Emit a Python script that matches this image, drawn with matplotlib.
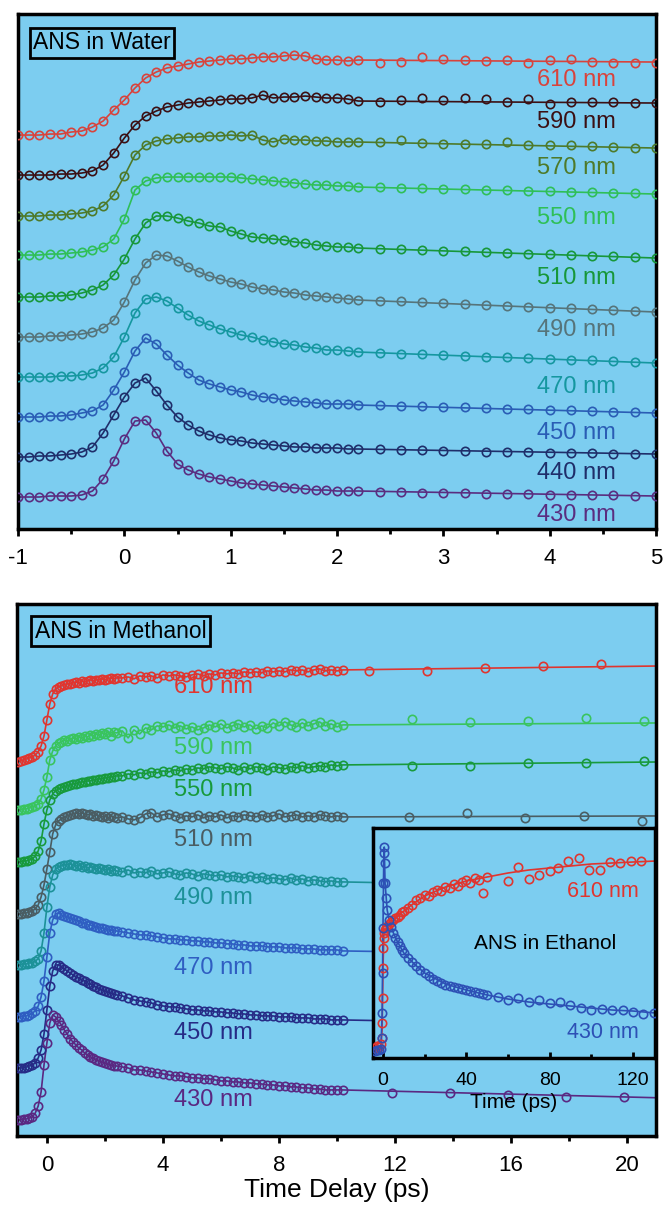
import numpy as np
import matplotlib.pyplot as plt
from matplotlib.ticker import MultipleLocator

plt.rcParams['font.family'] = ['Liberation Sans', 'DejaVu Sans']
plt.rcParams['axes.unicode_minus'] = False

BG = '#7ccdf0'

# ---------------- ANS in water (top panel) ----------------
water_labels = ['610 nm', '590 nm', '570 nm', '550 nm', '510 nm',
                '490 nm', '470 nm', '450 nm', '440 nm', '430 nm']
water_colors = ['#d8433c', '#3b1014', '#4e7a2a', '#2fbf57', '#17973a',
                '#56747a', '#1597a0', '#2a5db5', '#1f2e6a', '#5a2d80']
water_offsets = [394, 354, 313, 274, 232, 192, 152, 112, 72, 32]
water_label_y = [449, 407, 361, 311, 251, 199, 142, 96, 56, 14]

water_t = [-1.0, -0.9, -0.8, -0.7, -0.6, -0.5, -0.4, -0.3, -0.2, -0.1,
           0.0, 0.1, 0.2, 0.3, 0.4, 0.5, 0.6, 0.7, 0.8, 0.9,
           1.0, 1.1, 1.2, 1.3, 1.4, 1.5, 1.6, 1.7, 1.8, 1.9,
           2.0, 2.1, 2.2]
water_t_tail = [2.4, 2.6, 2.8, 3.0, 3.2, 3.4, 3.6, 3.8, 4.0, 4.2, 4.4, 4.6, 4.8, 5.0]

water_610 = [0, 0, 0, 1, 1, 3, 4, 8, 14, 25, 35, 47, 57, 63, 67, 69, 71, 73, 74, 75,
             76, 76, 77, 78, 78, 79, 80, 79, 76, 75, 75, 74, 75]
water_590 = [0, 0, 0, 0, 1, 1, 2, 4, 10, 22, 37, 50, 59, 64, 68, 70, 72, 73, 74, 75,
             76, 76, 77, 80, 77, 78, 78, 79, 78, 77, 77, 76, 74]
water_570 = [0, 0, 0, 1, 1, 2, 3, 5, 10, 21, 40, 61, 71, 75, 77, 78, 79, 79, 80, 80,
             81, 80, 81, 76, 74, 77, 76, 76, 75, 75, 74, 74, 74]
water_550 = [0, 0, 0, 1, 1, 2, 3, 5, 8, 16, 36, 65, 74, 77, 78, 78, 78, 78, 78, 78,
             78, 77, 76, 75, 74, 73, 72, 71, 70, 70, 69, 69, 68]
water_510 = [0, 0, 0, 1, 1, 2, 4, 7, 12, 22, 38, 58, 74, 81, 81, 79, 76, 74, 71, 70,
             66, 63, 60, 59, 58, 57, 55, 54, 52, 51, 50, 50, 49]
water_490 = [0, 0, 0, 1, 1, 2, 3, 5, 9, 17, 35, 57, 74, 82, 81, 76, 70, 65, 61, 58,
             55, 53, 50, 48, 47, 45, 44, 42, 41, 40, 39, 38, 37]
water_470 = [0, 0, 0, 0, 1, 1, 2, 4, 9, 20, 40, 64, 78, 80, 76, 69, 62, 56, 52, 48,
             45, 42, 40, 37, 35, 33, 32, 30, 29, 27, 27, 26, 25]
water_450 = [0, 0, 0, 1, 1, 2, 4, 6, 12, 27, 45, 66, 79, 73, 62, 52, 44, 37, 33, 30,
             27, 25, 22, 20, 19, 17, 16, 15, 14, 13, 13, 13, 12]
water_440 = [0, 0, 1, 1, 2, 3, 5, 10, 24, 42, 60, 74, 79, 66, 52, 40, 32, 26, 22, 19,
             17, 16, 14, 13, 12, 11, 10, 10, 9, 9, 9, 8, 8]
water_430 = [0, 0, 0, 1, 1, 1, 2, 6, 18, 36, 58, 76, 77, 64, 46, 33, 27, 23, 20, 18,
             16, 14, 13, 12, 11, 10, 9, 8, 7, 7, 6, 6, 6]

water_tail_610 = [72, 73, 78, 76, 75, 74, 75, 72, 75, 76, 73, 72, 72, 72]
water_tail_590 = [73, 75, 77, 75, 77, 76, 73, 76, 71, 73, 73, 73, 72, 72]
water_tail_570 = [74, 76, 73, 72, 72, 72, 74, 71, 71, 71, 70, 69, 68, 68]
water_tail_550 = [68, 67, 67, 66, 66, 65, 65, 64, 64, 63, 63, 62, 62, 61]
water_tail_510 = [48, 48, 47, 46, 46, 45, 44, 43, 43, 42, 41, 41, 40, 39]
water_tail_490 = [36, 36, 35, 34, 33, 32, 31, 30, 29, 29, 28, 27, 26, 25]
water_tail_470 = [24, 23, 23, 22, 21, 20, 20, 19, 18, 17, 17, 16, 15, 14]
water_tail_450 = [12, 11, 11, 10, 10, 9, 8, 8, 7, 7, 6, 5, 5, 4]
water_tail_440 = [8, 7, 7, 6, 6, 5, 5, 5, 4, 4, 4, 3, 3, 3]
water_tail_430 = [5, 5, 4, 4, 4, 3, 3, 3, 2, 2, 2, 2, 1, 1]

# value of the fitted curve at t = 5 ps
water_fit_end = [73, 72, 68, 61, 39, 25, 14, 4, 3, 1]

# ---------------- ANS in methanol (bottom panel) ----------------
meoh_labels = ['610 nm', '590 nm', '550 nm', '510 nm',
               '490 nm', '470 nm', '450 nm', '430 nm']
meoh_colors = ['#e0352f', '#39c45e', '#189a3c', '#4a5d63',
               '#1c9198', '#2f5ec2', '#262b86', '#5a2882']
meoh_offsets = [374, 326, 274, 222, 171, 119, 68, 16]
meoh_label_y = [449, 388, 346, 296, 238, 168, 103, 36]

meoh_t = [-1.0, -0.9, -0.8, -0.7, -0.6, -0.5, -0.4, -0.3, -0.2, -0.1,
          0.0, 0.1, 0.2, 0.3, 0.4, 0.5, 0.6, 0.7, 0.8, 0.9,
          1.0, 1.1, 1.2, 1.3, 1.4, 1.5, 1.6, 1.7, 1.8, 1.9,
          2.0, 2.1, 2.2, 2.3, 2.4,
          2.6, 2.8, 3.0, 3.2, 3.4, 3.6, 3.8, 4.0, 4.2, 4.4,
          4.6, 4.8, 5.0, 5.2, 5.4, 5.6, 5.8, 6.0, 6.2, 6.4,
          6.6, 6.8, 7.0, 7.2, 7.4, 7.6, 7.8, 8.0, 8.2, 8.4,
          8.6, 8.8, 9.0, 9.2, 9.4, 9.6, 9.8, 10.0, 10.2]

meoh_610 = [0, 1, 2, 3, 4, 5, 7, 10, 16, 26, 42, 58, 68, 73, 75, 76, 77, 78, 78, 79,
            80, 79, 81, 80, 81, 82, 81, 82, 82, 83, 82, 83, 84, 83, 84,
            84, 85, 83, 86, 85, 86, 84, 87, 86, 87, 86, 85, 87, 88, 86, 88, 87, 89, 88, 89,
            88, 90, 89, 90, 89, 91, 90, 91, 90, 92, 91, 92, 90, 92, 93, 91, 92, 91, 92]
meoh_590 = [0, 0, 1, 1, 2, 3, 4, 6, 11, 20, 33, 50, 59, 64, 67, 68, 70, 69, 71, 72,
            71, 73, 72, 74, 73, 75, 74, 76, 75, 77, 76, 78, 74, 78, 77,
            79, 72, 80, 76, 82, 80, 84, 83, 85, 82, 84, 81, 83, 80, 82, 85, 83, 86, 82, 84,
            86, 83, 85, 81, 84, 82, 87, 84, 88, 85, 83, 87, 84, 86, 88, 84, 86, 83, 85]
meoh_550 = [0, 0, 1, 1, 2, 3, 6, 11, 21, 38, 52, 62, 68, 71, 73, 74, 75, 76, 77, 78,
            78, 79, 80, 80, 81, 81, 82, 82, 83, 83, 84, 84, 85, 85, 86,
            86, 88, 87, 89, 88, 90, 89, 91, 90, 92, 91, 93, 92, 94, 93, 95, 94, 93, 95, 94,
            92, 95, 93, 95, 94, 92, 95, 94, 93, 95, 94, 96, 94, 95, 96, 95, 97, 96, 97]
meoh_510 = [0, 0, 1, 1, 2, 3, 5, 9, 17, 29, 45, 62, 80, 89, 93, 95, 97, 98, 99, 100,
            101, 100, 101, 100, 99, 100, 98, 99, 98, 97, 98, 96, 98, 97, 96,
            97, 95, 94, 96, 100, 101, 97, 99, 100, 98, 96, 98, 97, 99, 96, 98, 97, 99, 96, 98,
            97, 99, 98, 97, 99, 97, 98, 100, 97, 98, 99, 97, 98, 97, 99, 98, 97, 98, 97]
meoh_490 = [0, 0, 1, 1, 2, 2, 4, 6, 14, 32, 58, 78, 90, 96, 98, 99, 100, 100, 101, 100,
            99, 100, 98, 99, 97, 98, 97, 96, 97, 96, 95, 96, 94, 95, 94,
            93, 95, 92, 93, 92, 94, 91, 92, 93, 91, 90, 92, 91, 89, 91, 90, 89, 90, 88, 89,
            88, 87, 89, 87, 88, 86, 87, 86, 85, 87, 85, 86, 84, 85, 84, 83, 84, 83, 83]
meoh_470 = [0, 0, 1, 1, 2, 4, 6, 11, 20, 36, 60, 84, 97, 103, 104, 102, 101, 100, 99, 98,
            97, 96, 94, 94, 92, 92, 91, 90, 89, 89, 88, 87, 87, 86, 86,
            85, 84, 83, 82, 82, 81, 80, 79, 78, 78, 77, 77, 76, 76, 75, 75, 74, 74, 73, 73,
            72, 72, 71, 71, 71, 70, 70, 70, 69, 69, 69, 68, 68, 68, 67, 67, 67, 67, 66]
meoh_450 = [0, 0, 0, 1, 2, 3, 5, 10, 18, 34, 58, 82, 97, 103, 103, 101, 99, 97, 95, 93,
            91, 90, 88, 87, 85, 84, 82, 81, 79, 78, 77, 76, 75, 74, 73,
            72, 70, 68, 67, 66, 65, 63, 62, 61, 61, 60, 59, 58, 58, 57, 57, 56, 56, 55, 55,
            54, 54, 53, 53, 52, 52, 52, 51, 51, 51, 50, 50, 50, 49, 49, 49, 48, 48, 48]
meoh_430 = [0, 0, 1, 1, 2, 3, 7, 14, 28, 55, 77, 97, 105, 103, 99, 95, 90, 86, 81, 78,
            75, 72, 70, 67, 65, 63, 62, 60, 59, 58, 57, 56, 55, 54, 54,
            53, 52, 50, 50, 49, 48, 47, 46, 45, 44, 44, 43, 42, 42, 41, 41, 40, 39, 39, 38,
            38, 37, 37, 36, 36, 35, 35, 34, 34, 33, 33, 32, 32, 31, 31, 30, 30, 30, 30]

# sparse points at long delays
meoh_far_t = [[11.1, 13.1, 15.1, 17.1, 19.1],
              [12.6, 14.6, 16.6, 18.6, 20.6],
              [12.6, 14.6, 16.6, 18.6, 20.6],
              [12.5, 14.5, 16.5, 18.5, 20.5],
              [12.5, 14.5, 16.5, 18.5, 20.5],
              [12.5, 14.5, 16.5, 18.5, 20.5],
              [12.5, 14.5, 16.5, 18.5, 20.5],
              [11.9, 13.9, 15.9, 17.9, 19.9]]
meoh_far_y = [[91, 91, 94, 96, 98],
              [91, 88, 89, 92, 89],
              [96, 96, 99, 99, 101],
              [97, 101, 96, 98, 93],
              [82, 81, 80, 79, 78],
              [66, 65, 64, 63, 62],
              [47, 46, 45, 44, 43],
              [27, 27, 25, 23, 23]]
# fitted curve just past the right edge
meoh_fit_end_t = 21.3
meoh_fit_end = [96, 87, 100, 98, 77, 61, 42, 22]

# ---------------- ANS in ethanol (inset) ----------------
eth_430_t = [-4, -3, -2, -1, -0.6, -0.4, -0.2, 0.0, 0.2, 0.4, 0.6, 0.8, 1.0, 1.5, 2,
             3, 4, 5, 6, 7, 8, 9, 10, 12, 14, 16, 18, 20, 22, 24, 26, 28, 30,
             32, 34, 36, 38, 40, 42, 44, 46, 48, 50, 55, 60, 65, 70, 75, 80,
             85, 90, 95, 100, 105, 110, 115, 120, 125, 130]
eth_430_y = [7, 8, 8, 9, 20, 45, 85, 130, 175, 205, 211, 195, 175, 160, 148,
             138, 131, 125, 120, 116, 112, 108, 105, 100, 96, 92, 88, 85, 82, 79, 77, 75, 73,
             72, 71, 70, 69, 68, 67, 66, 65, 64, 63, 61, 58, 60, 56, 58, 55,
             56, 53, 50, 48, 49, 48, 48, 46, 44, 45]
eth_610_t = [-4, -3, -2, -1, -0.6, -0.4, -0.2, 0.0, 0.2, 0.4, 0.6, 1.0, 1.5, 2,
             3, 4, 5, 6, 7, 8, 9, 10, 12, 14, 16, 18, 20, 22, 24, 26, 28, 30,
             32, 34, 36, 38, 40, 42, 44, 46, 48, 50, 60, 65, 70, 75, 80, 84,
             89, 94, 99, 104, 109, 114, 119, 124]
eth_610_y = [10, 12, 11, 14, 20, 35, 60, 90, 110, 120, 125, 128, 130, 132,
             134, 136, 138, 140, 141, 143, 146, 147, 150, 153, 158, 160, 163, 162, 166, 168, 167, 171,
             170, 174, 172, 176, 178, 175, 180, 178, 165, 181, 177, 191, 179, 183, 187, 190,
             197, 200, 188, 188, 196, 195, 197, 197]
eth_fit_430_t = [-4, -1, -0.4, 0, 0.4, 0.6, 1, 2, 3, 5, 7, 10, 15, 20, 30, 40, 50,
                 60, 70, 80, 90, 100, 110, 120, 131]
eth_fit_430 = [7, 9, 45, 130, 205, 211, 175, 148, 138, 125, 116, 105, 94, 85, 74, 68, 63,
               59, 56, 54, 52, 50, 48, 47, 45]
eth_fit_610_t = [-4, -1, -0.4, 0, 0.4, 1, 3, 6, 10, 15, 20, 30, 40, 50, 60, 70, 80,
                 90, 100, 110, 120, 131]
eth_fit_610 = [10, 12, 30, 90, 122, 128, 134, 140, 147, 155, 162, 171, 177, 181, 185, 188, 190,
               192, 194, 195, 196, 197]


def style_axes(ax):
    ax.set_facecolor(BG)
    for sp in ax.spines.values():
        sp.set_linewidth(2.5)
        sp.set_color('black')
    ax.set_yticks([])


def draw_trace(ax, t_pts, y_pts, t_line, y_line, color):
    ax.plot(t_line, y_line, '-', color=color, lw=1.2, zorder=2)
    ax.plot(t_pts, y_pts, 'o', mfc='none', mec=color, ms=6, mew=1.2, zorder=3)


def water_panel(fig):
    ax = fig.add_axes([0.0271, 0.5628, 0.9594, 0.4256])
    style_axes(ax)
    traces = [water_610, water_590, water_570, water_550, water_510,
              water_490, water_470, water_450, water_440, water_430]
    tails = [water_tail_610, water_tail_590, water_tail_570, water_tail_550, water_tail_510,
             water_tail_490, water_tail_470, water_tail_450, water_tail_440, water_tail_430]
    for i in range(len(traces)):
        off = water_offsets[i]
        y = np.array(traces[i]) + off
        yt = np.array(tails[i]) + off
        t_pts = water_t + water_t_tail
        y_pts = np.concatenate([y, yt])
        t_line = water_t + [5.0]
        y_line = np.append(y, water_fit_end[i] + off)
        draw_trace(ax, t_pts, y_pts, t_line, y_line, water_colors[i])
        ax.text(4.62, water_label_y[i], water_labels[i], ha='right', va='center',
                color=water_colors[i], fontsize=17)
    ax.set_xlim(-1, 5)
    ax.set_ylim(0, 515)
    ax.xaxis.set_major_locator(MultipleLocator(1))
    ax.xaxis.set_minor_locator(MultipleLocator(0.5))
    ax.tick_params(axis='x', which='major', direction='out', length=5, width=2,
                   labelsize=16, pad=9)
    ax.tick_params(axis='x', which='minor', direction='out', length=3.5, width=2)
    ax.text(0.0235, 0.944, 'ANS in Water', transform=ax.transAxes, ha='left',
            va='center', fontsize=16.5,
            bbox=dict(boxstyle='square,pad=0.15', fc='none', ec='black', lw=2))


def methanol_panel(fig):
    ax = fig.add_axes([0.0256, 0.0612, 0.9609, 0.4397])
    style_axes(ax)
    traces = [meoh_610, meoh_590, meoh_550, meoh_510,
              meoh_490, meoh_470, meoh_450, meoh_430]
    for i in range(len(traces)):
        off = meoh_offsets[i]
        y = np.array(traces[i]) + off
        t_pts = meoh_t + meoh_far_t[i]
        y_pts = np.concatenate([y, np.array(meoh_far_y[i]) + off])
        t_line = meoh_t + [meoh_fit_end_t]
        y_line = np.append(y, meoh_fit_end[i] + off)
        draw_trace(ax, t_pts, y_pts, t_line, y_line, meoh_colors[i])
        ax.text(5.75, meoh_label_y[i], meoh_labels[i], ha='center', va='center',
                color=meoh_colors[i], fontsize=17)
    ax.set_xlim(-1.03, 21.0)
    ax.set_ylim(0, 532)
    ax.xaxis.set_major_locator(MultipleLocator(4))
    ax.xaxis.set_minor_locator(MultipleLocator(2))
    ax.tick_params(axis='x', which='major', direction='out', length=5, width=2,
                   labelsize=16, pad=9)
    ax.tick_params(axis='x', which='minor', direction='out', length=3.5, width=2)
    ax.set_xlabel('Time Delay (ps)', fontsize=19, labelpad=1)
    ax.text(0.028, 0.949, 'ANS in Methanol', transform=ax.transAxes, ha='left',
            va='center', fontsize=16.5,
            bbox=dict(boxstyle='square,pad=0.15', fc='none', ec='black', lw=2))


def ethanol_inset(fig):
    ax = fig.add_axes([0.5609, 0.1256, 0.4241, 0.1901])
    style_axes(ax)
    ax.plot(eth_fit_610_t, eth_fit_610, '-', color='#e0352f', lw=1.2, zorder=2)
    ax.plot(eth_fit_430_t, eth_fit_430, '-', color='#2d50b5', lw=1.2, zorder=2)
    ax.plot(eth_610_t, eth_610_y, 'o', mfc='none', mec='#e0352f', ms=6, mew=1.2, zorder=3)
    ax.plot(eth_430_t, eth_430_y, 'o', mfc='none', mec='#2d50b5', ms=6, mew=1.2, zorder=3)
    ax.set_xlim(-4.8, 130.6)
    ax.set_ylim(0, 230)
    ax.xaxis.set_major_locator(MultipleLocator(40))
    ax.xaxis.set_minor_locator(MultipleLocator(20))
    ax.tick_params(axis='x', which='major', direction='in', length=4, width=2,
                   labelsize=14, pad=10)
    ax.tick_params(axis='x', which='minor', direction='in', length=3, width=2)
    ax.set_xlabel('Time (ps)', fontsize=15, labelpad=3)
    ax.text(78, 115, 'ANS in Ethanol', ha='center', va='center', fontsize=15)
    ax.text(123, 167, '610 nm', ha='right', va='center', color='#e0352f', fontsize=15.5)
    ax.text(123, 26, '430 nm', ha='right', va='center', color='#2d50b5', fontsize=15.5)


def main():
    fig = plt.figure(figsize=(6.65, 12.1), dpi=100)
    water_panel(fig)
    methanol_panel(fig)
    ethanol_inset(fig)
    fig.savefig('out.png', dpi=100)


if __name__ == '__main__':
    main()
